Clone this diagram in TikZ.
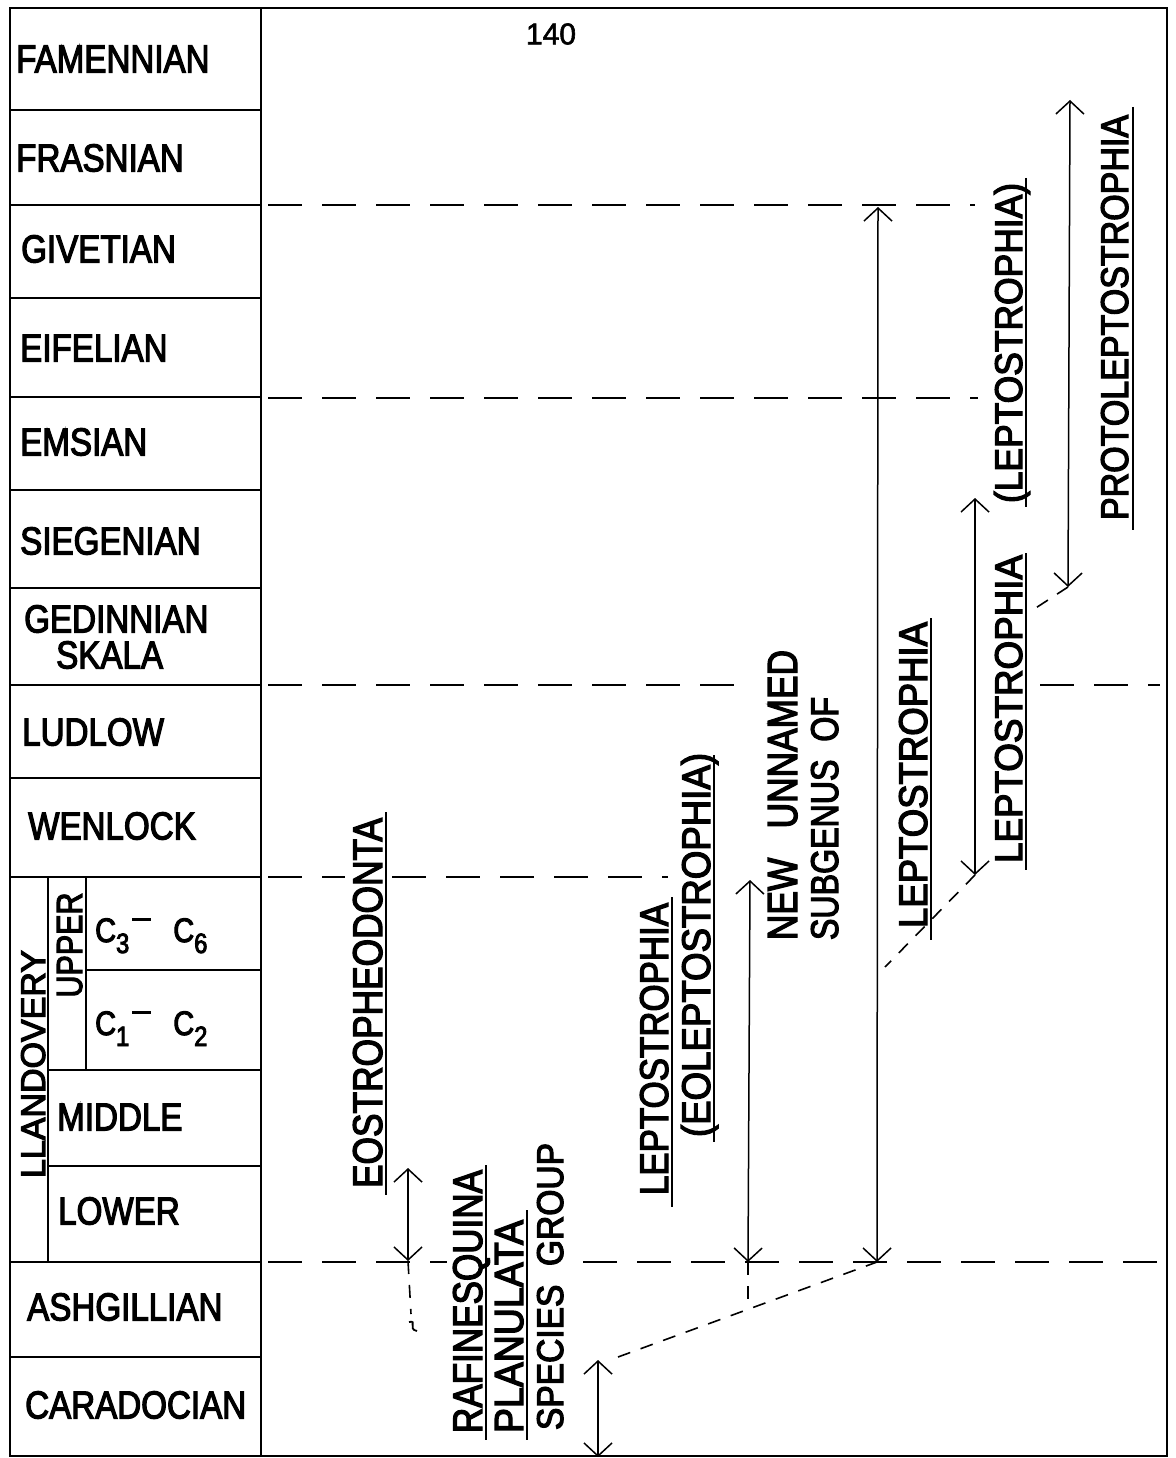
\documentclass[tikz,border=0pt]{standalone}
\usepackage{fontspec}
\setmainfont[FakeStretch=0.85,FakeBold=3]{Liberation Sans}
\newfontfamily\numfont[FakeBold=2]{Liberation Sans}
\usetikzlibrary{arrows.meta}
\newcommand{\vlab}[3]{\resizebox{#1pt}{#2pt}{#3}}
\newcommand{\csub}[2]{\fontsize{34}{36}\selectfont C\raisebox{-11pt}{\fontsize{28}{30}\selectfont #1}\hspace{3pt}\raisebox{21pt}{\rule{19pt}{3pt}}\hspace{22pt}C\raisebox{-11pt}{\fontsize{28}{30}\selectfont #2}}
\begin{document}
\begin{tikzpicture}[x=1pt,y=-1pt,
  frame/.style={line width=2pt},
  sep/.style={line width=2.6pt, dash pattern=on 34pt off 20pt},
  rangearrow/.style={line width=1.5pt, {Straight Barb[length=13pt,width=28pt]}-{Straight Barb[length=13pt,width=28pt]}},
  link/.style={line width=1.6pt, dash pattern=on 13pt off 11pt},
  uline/.style={line width=2pt},
  stage/.style={anchor=west, inner sep=0pt, font=\fontsize{39}{44}\selectfont},
  taxon/.style={anchor=base, inner sep=0pt, rotate=90},
]
\useasboundingbox (0,0) rectangle (1175,1458);
\fill[white] (0,0) rectangle (1175,1458);

% frame and table
\draw[frame] (10,8) rectangle (1167,1456);
\draw[frame] (261,8) -- (261,1456);
\foreach \yy in {110,205,298,397,490,588,685,778,877,1262,1357}
  \draw[frame] (10,\yy) -- (261,\yy);
\draw[frame] (86,970) -- (261,970);
\draw[frame] (48,1070) -- (261,1070);
\draw[frame] (48,1166) -- (261,1166);
\draw[frame] (48,877) -- (48,1262);
\draw[frame] (86,877) -- (86,1070);

% stage names
\node[stage] (famennian) at (16,59) {FAMENNIAN};
\node[stage] (frasnian) at (16,158) {FRASNIAN};
\node[stage] (givetian) at (21,249) {GIVETIAN};
\node[stage] (eifelian) at (20,348) {EIFELIAN};
\node[stage] (emsian) at (20,442) {EMSIAN};
\node[stage] (siegenian) at (20,541) {SIEGENIAN};
\node[stage] (gedinnian) at (24,619) {GEDINNIAN};
\node[stage] (skala) at (56,655) {SKALA};
\node[stage] (ludlow) at (22,732) {LUDLOW};
\node[stage] (wenlock) at (28,826) {WENLOCK};
\node[stage] (middle) at (57,1117) {MIDDLE};
\node[stage] (lower) at (58,1211) {LOWER};
\node[stage] (ashgillian) at (27,1307) {ASHGILLIAN};
\node[stage] (caradocian) at (25,1405) {CARADOCIAN};
\node[taxon] (llandovery) at (45,1064) {\vlab{228}{24}{LLANDOVERY}};
\node[taxon] (upper) at (82,945) {\vlab{105}{25}{UPPER}};
\node[anchor=base west, inner sep=0pt] (c36) at (95,942) {\csub{3}{6}};
\node[anchor=base west, inner sep=0pt] (c12) at (95,1035) {\csub{1}{2}};

% page number
\node[inner sep=0pt, font=\numfont\fontsize{30}{32}\selectfont] (page) at (551,34) {140};

% separators
\draw[sep] (268,205) -- (975,205);
\draw[sep] (268,398) -- (978,398);
\draw[sep] (268,685) -- (752,685);
\draw[sep] (1040,685) -- (1160,685);
\draw[sep] (268,877) -- (345,877);
\draw[sep] (392,877) -- (668,877);
\draw[sep] (268,1262) -- (447,1262);
\draw[sep] (583,1262) -- (1160,1262);

% taxon labels
\node[taxon] (eo) at (382,1003) {\vlab{370}{29}{EOSTROPHEODONTA}};
\node[taxon] (raf) at (482,1301.5) {\vlab{263}{29}{RAFINESQUINA}};
\node[taxon] (plan) at (523,1326.5) {\vlab{213}{28}{PLANULATA}};
\node[taxon] (spec) at (563,1286.5) {\vlab{287}{26}{SPECIES\ \ GROUP}};
\node[taxon] (lepa) at (668,1049) {\vlab{292}{28}{LEPTOSTROPHIA}};
\node[taxon] (eolep) at (710,945) {\vlab{384}{29}{(EOLEPTOSTROPHIA)}};
\node[taxon] (newu) at (797,795) {\vlab{290}{29}{NEW\ \ \ UNNAMED}};
\node[taxon] (subg) at (838,818.5) {\vlab{243}{27}{SUBGENUS\ \ OF}};
\node[taxon] (lepb) at (927,775) {\vlab{306}{28}{LEPTOSTROPHIA}};
\node[taxon] (lepc) at (1022,709) {\vlab{308}{27}{LEPTOSTROPHIA}};
\node[taxon] (lepd) at (1022,343) {\vlab{320}{28}{(LEPTOSTROPHIA)}};
\node[taxon] (proto) at (1128,317.5) {\vlab{405}{27}{PROTOLEPTOSTROPHIA}};

% underlines
\draw[uline] (386,812) -- (386,1195);
\draw[uline] (486,1165) -- (486,1440);
\draw[uline] (527,1210) -- (527,1440);
\draw[uline] (672,897) -- (672,1207);
\draw[uline] (714,755) -- (714,1142);
\draw[uline] (931,618) -- (931,940);
\draw[uline] (1026,553) -- (1026,870);
\draw[uline] (1026,178) -- (1026,507);
\draw[uline] (1133,107) -- (1133,530);

% ranges
\coordinate (a1t) at (408,1168); \coordinate (a1b) at (408,1261);
\coordinate (a2t) at (598,1360); \coordinate (a2b) at (598,1457);
\coordinate (a3t) at (750,880);  \coordinate (a3b) at (748,1262);
\coordinate (a4t) at (878,207);  \coordinate (a4b) at (877,1262);
\coordinate (a5t) at (975,498);  \coordinate (a5b) at (975,875);
\coordinate (a6t) at (1070,100); \coordinate (a6b) at (1068,587);
\draw[rangearrow] (a1t) -- (a1b);
\draw[rangearrow] (a2t) -- (a2b);
\draw[rangearrow] (a3t) -- (a3b);
\draw[rangearrow] (a4t) -- (a4b);
\draw[rangearrow] (a5t) -- (a5b);
\draw[rangearrow] (a6t) -- (a6b);

% dashed links
\coordinate (l1) at (411,1314);
\draw[link] (a1b) -- (l1);
\draw[line width=1.8pt] (409,1322) .. controls (418,1320) and (407,1329) .. (417,1331);
\draw[link] (618,1357) -- (a4b);
\draw[link] (a3b) -- (748,1302);
\draw[link] (a5b) -- (885,967);
\draw[link] (a6b) -- (1028,613);
\end{tikzpicture}
\end{document}
